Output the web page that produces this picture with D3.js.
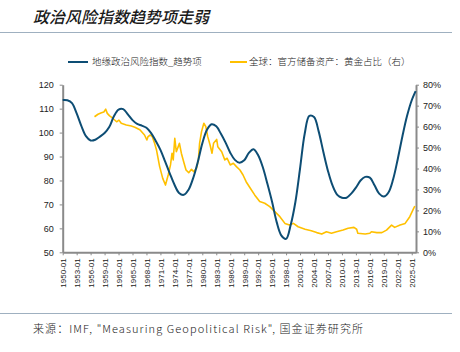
<!DOCTYPE html>
<html><head><meta charset="utf-8">
<script src="https://cdn.jsdelivr.net/npm/d3@7"></script>
<style>body{margin:0;background:#fff} svg{display:block}</style>
</head><body><svg id="c" width="460" height="352"></svg>
<script>
// ---------------- data ----------------
const blueDates = ["1950-01","1951-01","1952-01","1953-01","1954-01","1955-01","1956-01","1957-01","1958-01","1959-01",
"1960-01","1961-01","1962-01","1963-01","1964-01","1965-01","1966-01","1967-01","1968-01","1969-01",
"1970-01","1971-01","1972-01","1973-01","1974-01","1975-01","1976-01","1977-01","1978-01","1979-01",
"1980-01","1981-01","1982-01","1983-01","1984-01","1985-01","1986-01","1987-01","1988-01","1989-01",
"1990-01","1991-01","1992-01","1993-01","1994-01","1995-01","1996-01","1997-01","1998-01","1999-01",
"2000-01","2001-01","2002-01","2003-01","2004-01","2005-01","2006-01","2007-01","2008-01","2009-01",
"2010-01","2011-01","2012-01","2013-01","2014-01","2015-01","2016-01","2017-01","2018-01","2019-01",
"2020-01","2021-01","2022-01","2023-01","2024-01","2025-01","2025-11"];
const blueValues = [113.6,113.5,112.3,108.0,102.8,98.5,96.7,97.0,98.3,99.8,
102.3,106.8,109.6,109.8,107.6,105.2,103.6,102.9,102.0,99.8,
96.5,92.8,88.0,83.0,78.3,74.8,74.0,76.0,80.8,87.5,
95.5,101.2,103.5,102.6,99.5,95.8,91.6,88.6,87.4,88.4,
91.5,93.0,90.5,85.5,78.5,71.0,62.5,57.0,55.6,61.5,
71.0,85.0,99.5,107.0,106.5,100.5,92.0,84.0,77.8,74.0,
72.8,72.8,74.5,77.0,80.0,81.5,81.2,78.0,74.5,73.3,
75.0,80.5,89.0,98.5,107.0,113.5,117.3];

const goldDates = ["1956-11","1957-08","1958-05","1958-11","1959-04","1959-08","1960-02","1960-10","1961-08","1962-02",
"1962-08","1963-09","1964-10","1965-07","1966-08","1967-08","1968-02","1968-05","1968-11","1969-04",
"1969-10","1970-03","1970-11","1971-07","1972-02","1972-09","1973-03","1973-07","1973-10","1974-02",
"1974-06","1975-02","1975-07","1976-02","1976-07","1977-02","1977-09","1978-03","1978-10","1979-03",
"1979-06","1979-11","1980-05","1980-10","1981-03","1981-09","1982-02","1982-06","1983-02","1983-05",
"1984-03","1984-11","1985-05","1986-01","1986-09","1987-05","1988-02","1988-10","1989-06","1990-04",
"1991-04","1992-05","1993-06","1994-07","1995-08","1996-09","1997-10","1998-10","1999-08","2000-08",
"2002-02","2003-06","2004-08","2005-09","2006-09","2007-10","2008-11","2010-04","2011-05","2012-08",
"2013-03","2013-06","2015-01","2016-01","2016-05","2017-07","2018-08","2019-08","2020-09","2021-05",
"2022-07","2023-08","2024-08","2025-06","2025-09"];
const goldValues = [64.7,65.9,66.6,67.0,68.3,66.3,65.1,64.0,62.3,63.1,
61.6,60.8,60.3,59.7,58.5,56.0,53.6,55.2,56.0,55.2,
52.0,48.8,40.9,35.3,32.1,36.9,41.7,47.3,44.1,54.4,
48.0,52.0,47.3,42.5,39.3,38.0,39.6,38.5,40.1,44.1,
52.0,57.6,61.6,60.0,55.2,51.2,47.3,52.0,53.9,50.4,
48.0,44.1,44.9,41.7,42.5,40.9,39.3,36.9,33.7,30.8,
27.4,24.2,23.4,21.8,19.4,17.0,13.8,13.0,13.8,12.2,
11.0,10.3,9.4,8.7,9.8,9.1,9.8,10.6,11.5,11.9,
11.0,9.1,8.7,9.1,9.8,9.4,9.4,10.6,13.0,11.9,
13.0,13.8,17.0,21.0,22.1];

const xTickLabels = ["1950-01","1953-01","1956-01","1959-01","1962-01","1965-01","1968-01","1971-01","1974-01","1977-01",
"1980-01","1983-01","1986-01","1989-01","1992-01","1995-01","1998-01","2001-01","2004-01","2007-01",
"2010-01","2013-01","2016-01","2019-01","2022-01","2025-01"];
const leftTicks = [50,60,70,80,90,100,110,120];
const rightTicks = [0,10,20,30,40,50,60,70,80];

const title = "政治风险指数趋势项走弱";
const seriesNames = ["地缘政治风险指数_趋势项","全球：官方储备资产：黄金占比（右）"];
const source = "来源：IMF, \"Measuring Geopolitical Risk\", 国金证券研究所";

// ---------------- drawing ----------------
const parse = d3.timeParse("%Y-%m");
const svg = d3.select("#c");
const L = 62.7, R = 416, T = 84.7, B = 252.3;
const BLUE = "#0d4d74", GOLD = "#ffc000", AXIS = "#8a8a8a";

const x = d3.scaleTime().domain([parse("1950-01"), parse("2025-12")]).range([L, R]);
const yL = d3.scaleLinear().domain([50,120]).range([B, T]);
const yR = d3.scaleLinear().domain([0,80]).range([B, T]);

// title
svg.append("text").attr("x",33).attr("y",23).text(title)
  .attr("font-family","'Noto Sans CJK SC'").attr("font-size",16).attr("font-weight",500)
  .attr("font-style","italic").attr("fill","#1a1a1a");
svg.append("line").attr("x1",0).attr("x2",452).attr("y1",32.5).attr("y2",32.5)
  .attr("stroke","#9fb0c0").attr("stroke-width",1);

// legend
const lg = svg.append("g").attr("font-family","'Noto Sans CJK SC'").attr("font-size",9.5).attr("font-weight",300).attr("fill","#222");
lg.append("line").attr("x1",68).attr("x2",88).attr("y1",62).attr("y2",62).attr("stroke",BLUE).attr("stroke-width",2);
lg.append("text").attr("x",92).attr("y",62).attr("dy","0.35em").text(seriesNames[0]);
lg.append("line").attr("x1",230).attr("x2",247).attr("y1",62).attr("y2",62).attr("stroke",GOLD).attr("stroke-width",2);
lg.append("text").attr("x",249).attr("y",62).attr("dy","0.35em").text(seriesNames[1]);

// axes
function styleAxis(g){
  g.select(".domain").attr("stroke",AXIS).attr("stroke-width",2);
  g.selectAll(".tick line").attr("stroke",AXIS).attr("stroke-width",1);
  g.selectAll("text").attr("fill","#222").attr("font-family","'Liberation Sans',Arial,sans-serif");
}
const gx = svg.append("g").attr("transform",`translate(0,${B})`)
  .call(d3.axisBottom(x).tickValues(xTickLabels.map(parse)).tickFormat(d3.timeFormat("%Y-%m")).tickSize(3).tickSizeOuter(0));
styleAxis(gx);
gx.selectAll("text").attr("font-size",8).attr("transform","rotate(-90)")
  .attr("x",-6).attr("y",0).attr("dy","0.35em").attr("text-anchor","end");

const gl = svg.append("g").attr("transform",`translate(${L},0)`)
  .call(d3.axisLeft(yL).tickValues(leftTicks).tickSize(3).tickPadding(6).tickSizeOuter(0));
styleAxis(gl); gl.selectAll("text").attr("font-size",9);

const gr = svg.append("g").attr("transform",`translate(${R},0)`)
  .call(d3.axisRight(yR).tickValues(rightTicks).tickFormat(d=>d+"%").tickSize(3).tickPadding(4).tickSizeOuter(0));
styleAxis(gr); gr.selectAll("text").attr("font-size",9);

// lines
const gold = goldDates.map((d,i)=>({d:parse(d), v:goldValues[i]}));
const blue = blueDates.map((d,i)=>({d:parse(d), v:blueValues[i]}));
svg.append("path").datum(gold).attr("fill","none").attr("stroke",GOLD).attr("stroke-width",1.6)
  .attr("stroke-linejoin","round")
  .attr("d", d3.line().x(p=>x(p.d)).y(p=>yR(p.v)));
svg.append("path").datum(blue).attr("fill","none").attr("stroke",BLUE).attr("stroke-width",2)
  .attr("d", d3.line().x(p=>x(p.d)).y(p=>yL(p.v)).curve(d3.curveCatmullRom.alpha(0.5)));

// footer
svg.append("line").attr("x1",0).attr("x2",452).attr("y1",313.5).attr("y2",313.5)
  .attr("stroke","#9fb0c0").attr("stroke-width",1);
svg.append("text").attr("x",33).attr("y",329).attr("dy","0.35em").text(source)
  .attr("font-family","'Noto Sans CJK SC'").attr("font-size",11).attr("font-weight",300).attr("fill","#222")
  .attr("textLength",330).attr("lengthAdjust","spacing");
</script></body></html>
